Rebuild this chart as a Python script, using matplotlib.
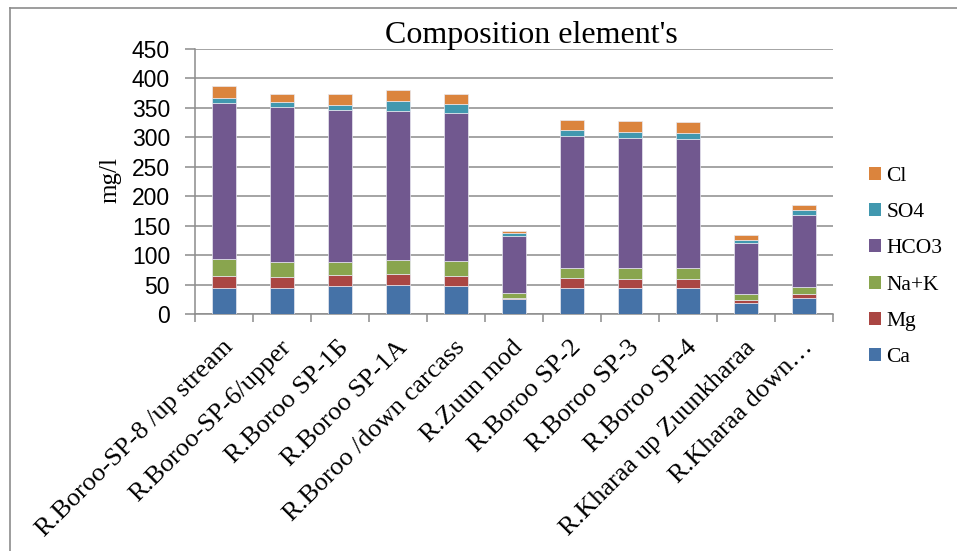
import numpy as np
import matplotlib
matplotlib.use('Agg')
import matplotlib.pyplot as plt
import matplotlib.transforms as mtransforms
from matplotlib.lines import Line2D
from matplotlib.patches import Patch

categories = [
    'R.Boroo-SP-8 /up stream',
    'R.Boroo-SP-6/upper',
    'R.Boroo SP-1Б',
    'R.Boroo SP-1A',
    'R.Boroo /down carcass',
    'R.Zuun mod',
    'R.Boroo SP-2',
    'R.Boroo SP-3',
    'R.Boroo SP-4',
    'R.Kharaa up Zuunkharaa',
    'R.Kharaa down…',
]

# mg/l, stacked bottom to top
ca = [45, 45, 48, 49, 48, 26, 45, 45, 45, 19, 28]
mg = [20, 18, 19, 19, 17, 2, 16, 15, 15, 4, 6]
nak = [29, 25, 22, 24, 25, 7, 17, 18, 18, 11, 12]
hco3 = [265, 264, 258, 252, 251, 97, 224, 221, 220, 86, 122]
so4 = [7, 8, 8, 18, 15, 6, 10, 10, 10, 5, 8]
cl = [22, 14, 18, 18, 18, 3, 18, 18, 18, 9, 9]

series = [('Ca', ca), ('Mg', mg), ('Na+K', nak), ('HCO3', hco3), ('SO4', so4), ('Cl', cl)]
colors = ['#4572A7', '#AA4643', '#89A54E', '#71588F', '#4198AF', '#DB843D']

SERIF = 'Liberation Serif'
SANS = 'Liberation Sans'
GRID = '#8c8c8c'

fig = plt.figure(figsize=(9.57, 5.51), dpi=100)
ax = fig.add_axes([195 / 957, 1 - 314 / 551, 638 / 957, 265 / 551])

x = np.arange(len(categories))
bottom = np.zeros(len(categories))
handles = []
for (name, vals), c in zip(series, colors):
    vals = np.array(vals, dtype=float)
    ax.bar(x, vals, width=0.4, bottom=bottom, color=c, edgecolor='#e8e8f0',
           linewidth=0.5, zorder=3)
    bottom += vals
    handles.append(Patch(facecolor=c, edgecolor='none', label=name))

ax.set_xlim(-0.5, len(categories) - 0.5)
ax.set_ylim(0, 450)
ax.set_yticks(np.arange(0, 451, 50))
ax.yaxis.grid(True, color=GRID, linewidth=1.1, zorder=0)
ax.set_axisbelow(True)

for s in ['top', 'right']:
    ax.spines[s].set_visible(False)
for s in ['left', 'bottom']:
    ax.spines[s].set_color(GRID)
    ax.spines[s].set_linewidth(1.1)

ax.tick_params(axis='y', direction='out', length=7, width=1.1, color=GRID,
               pad=11, labelsize=16.5)
for lbl in ax.get_yticklabels():
    lbl.set_fontfamily(SANS)

ax.set_xticks(x)
ax.set_xticks(np.arange(-0.5, len(categories), 1), minor=True)
ax.tick_params(axis='x', which='major', length=0, pad=16)
ax.tick_params(axis='x', which='minor', direction='out', length=6, width=1.1, color=GRID)
ax.set_xticklabels(categories, rotation=45, ha='right', va='top',
                   rotation_mode='anchor', fontsize=19, fontfamily=SERIF)
offset = mtransforms.ScaledTranslation(-2 / 100, 0, fig.dpi_scale_trans)
for lbl in ax.get_xticklabels():
    lbl.set_transform(lbl.get_transform() + offset)

fig.text(531 / 957, 1 - 43 / 551, "Composition element's", ha='center', va='baseline',
         fontsize=23, fontfamily=SERIF)
fig.text(110 / 957, 1 - 180 / 551, 'mg/l', rotation=90, ha='center', va='center',
         fontsize=18, fontfamily=SERIF)

fig.legend(handles=handles[::-1], loc='center left', bbox_to_anchor=(869 / 957, 1 - 267 / 551),
           frameon=False, prop={'family': SERIF, 'size': 15.5}, handlelength=0.55,
           handleheight=0.55, handletextpad=0.25, labelspacing=0.8, borderpad=0,
           borderaxespad=0)

# outer chart border
fig.add_artist(Line2D([10 / 957, 10 / 957], [0, 1 - 8 / 551], color='#8c8c8c', linewidth=1.2))
fig.add_artist(Line2D([10 / 957, 1], [1 - 8 / 551, 1 - 8 / 551], color='#8c8c8c', linewidth=1.2))

fig.savefig('out.png', dpi=100)
